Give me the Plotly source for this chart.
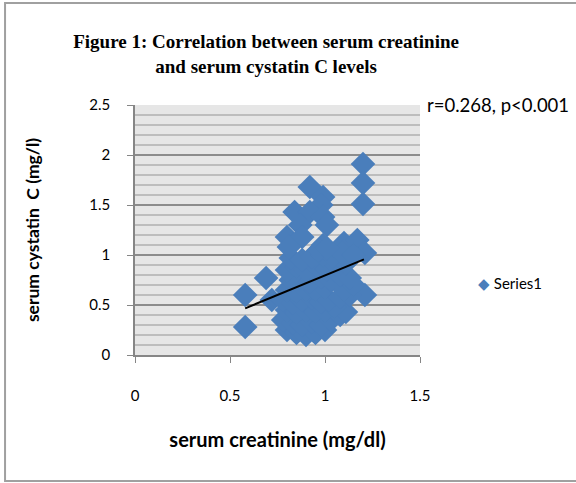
import plotly.graph_objects as go

# Data
creatinine = [
    1.20, 1.20, 1.20, 0.92, 0.99, 0.98, 0.84, 0.92, 0.99, 1.01, 0.87, 0.80, 0.88, 0.99, 1.10, 1.17,
    0.58, 0.58, 0.69, 0.72, 1.21, 1.21,
    0.80, 0.85, 0.90, 0.95, 1.00, 0.78, 0.83, 0.88, 0.93, 0.98, 1.03, 1.08, 1.11,
    0.80, 0.85, 0.90, 0.95, 1.00, 1.05, 0.78, 0.83, 0.88, 0.93, 0.98, 1.02, 1.08, 1.13,
    0.80, 0.85, 0.90, 0.95, 1.00, 1.10, 1.15, 0.82, 0.87, 0.92, 0.98, 1.03, 1.08, 1.13,
    0.80, 0.85, 0.90, 0.96, 1.01, 1.06, 1.11, 0.82, 0.88, 0.93, 0.99, 1.04, 1.09, 1.15,
    0.81, 0.97, 1.01,
]
cystatin = [
    1.91, 1.72, 1.51, 1.68, 1.58, 1.50, 1.43, 1.43, 1.38, 1.30, 1.30, 1.18, 1.18, 1.10, 1.12, 1.15,
    0.60, 0.28, 0.77, 0.55, 0.60, 1.02,
    0.25, 0.22, 0.20, 0.22, 0.25, 0.35, 0.32, 0.30, 0.33, 0.30, 0.35, 0.40, 0.43,
    0.45, 0.42, 0.45, 0.43, 0.45, 0.48, 0.55, 0.52, 0.55, 0.57, 0.53, 0.55, 0.58, 0.60,
    0.65, 0.63, 0.66, 0.65, 0.68, 0.66, 0.70, 0.75, 0.77, 0.73, 0.78, 0.75, 0.80, 0.77,
    0.85, 0.88, 0.85, 0.88, 0.86, 0.90, 0.92, 0.97, 0.95, 0.98, 1.00, 0.98, 1.02, 1.00,
    1.08, 1.05, 1.07,
]
trend_x = [0.58, 1.205]
trend_y = [0.467, 0.957]

x_ticks = [0, 0.5, 1, 1.5]
x_tick_labels = ["0", "0.5", "1", "1.5"]
y_ticks = [0, 0.5, 1, 1.5, 2, 2.5]
y_tick_labels = ["0", "0.5", "1", "1.5", "2", "2.5"]

BLUE = "#4A7EBB"

fig = go.Figure()
fig.add_trace(go.Scatter(
    x=creatinine, y=cystatin, mode="markers", name="Series1", showlegend=False,
    marker=dict(symbol="diamond", size=19, color=BLUE, line=dict(width=0)),
))
fig.add_trace(go.Scatter(
    x=trend_x, y=trend_y, mode="lines", showlegend=False,
    line=dict(color="black", width=2),
))

fig.update_layout(
    width=576, height=483,
    margin=dict(l=135, r=156, t=105, b=128, autoexpand=False),
    paper_bgcolor="white", plot_bgcolor="#E6E6E6",
    font=dict(family="Lato, Open Sans, sans-serif", size=15, color="black"),
    title=dict(
        text="Figure 1: Correlation between serum creatinine<br>and serum cystatin C levels",
        font=dict(family="Liberation Serif, Times New Roman, serif", size=19, color="black", weight="bold"),
        x=0.46, xref="paper", xanchor="center", y=0.90, yanchor="top",
    ),
    showlegend=False,
    xaxis=dict(
        range=[0, 1.5], tickvals=x_ticks, ticktext=x_tick_labels, automargin=False,
        showgrid=False, zeroline=False, showline=True, linecolor="#868686", linewidth=1.5,
        ticks="outside", ticklen=6, tickcolor="#868686", ticklabelstandoff=20,
        title=dict(text="<b>serum creatinine (mg/dl)</b>", standoff=30, font=dict(size=20)),
        fixedrange=True,
    ),
    yaxis=dict(
        range=[0, 2.5], tickvals=y_ticks, ticktext=y_tick_labels, automargin=False,
        showgrid=True, gridcolor="#8C8C8C", gridwidth=1.5, zeroline=False,
        showline=True, linecolor="#868686", linewidth=1.5,
        ticks="outside", ticklen=6, tickcolor="#868686", ticklabelstandoff=14,
        minor=dict(dtick=0.1, showgrid=True, gridcolor="#BDBDBD", gridwidth=1.5),
        title=dict(text="<b>serum cystatin  C (mg/l)</b>", standoff=45, font=dict(size=17.5)),
        fixedrange=True,
    ),
    annotations=[
        dict(text="r=0.268, p<0.001", xref="paper", yref="paper", x=1.0175, y=1.0,
             xanchor="left", yanchor="middle", showarrow=False, font=dict(size=18.5)),
        dict(text="<span style='color:%s'>◆</span> Series1" % BLUE, xref="paper", yref="paper",
             x=1.196, y=0.288, xanchor="left", yanchor="middle", showarrow=False,
             font=dict(size=15)),
    ],
    shapes=[dict(
        type="rect", xref="paper", yref="paper", x0=-0.456, x1=1.62, y0=-0.504, y1=1.408,
        line=dict(color="#A0A0A0", width=2), layer="below",
    )],
)

fig.write_html("out.html", config={"displayModeBar": False},
               post_script="document.body.style.margin='0px';")
